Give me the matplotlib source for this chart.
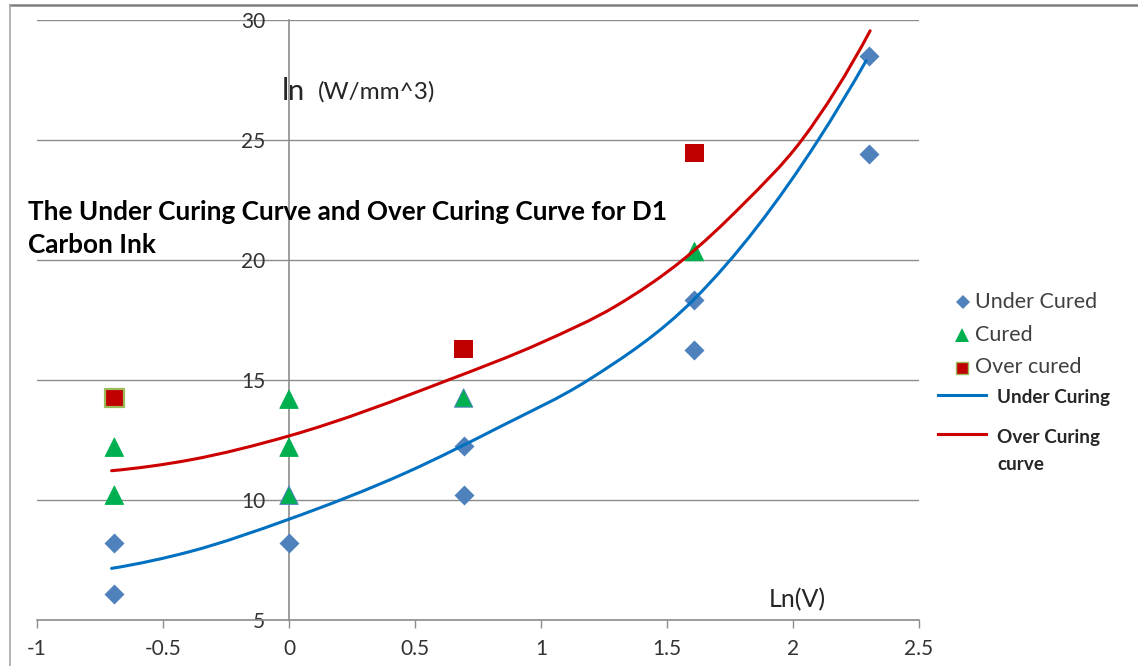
import numpy as np
import matplotlib
matplotlib.use("Agg")
import matplotlib.pyplot as plt
from matplotlib.path import Path
from matplotlib.patches import PathPatch
from matplotlib.lines import Line2D

plt.rcParams["font.family"] = ["Lato", "DejaVu Sans"]
plt.rcParams["axes.unicode_minus"] = False

# Measured points: x = Ln(V), y = ln of power density
under_x = [-0.693, -0.693, 0.0, 0.693, 0.693, 1.609, 1.609, 2.303, 2.303]
under_y = [8.2, 6.1, 8.2, 12.25, 10.2, 18.35, 16.25, 28.5, 24.4]

cured_x = [-0.693, -0.693, 0.0, 0.0, 0.0, 0.693, 1.609]
cured_y = [12.2, 10.2, 14.2, 12.2, 10.2, 14.25, 20.35]

over_x = [-0.693, 0.693, 1.609]
over_y = [14.25, 16.3, 24.45]

# Hand-drawn boundary curves (control points)
under_curve_x = [-0.704, -0.393, 0.0, 0.467, 0.837, 1.188, 1.611, 2.10, 2.29]
under_curve_y = [7.15, 7.85, 9.2, 11.15, 13.05, 15.0, 18.4, 25.0, 28.3]

over_curve_x = [-0.704, -0.393, 0.0, 0.632, 1.0, 1.3, 1.562, 1.8, 2.035, 2.306]
over_curve_y = [11.22, 11.67, 12.67, 15.0, 16.55, 18.1, 20.0, 22.3, 25.0, 29.55]

x_ticks = [-1, -0.5, 0, 0.5, 1, 1.5, 2, 2.5]
x_tick_labels = ["-1", "-0.5", "0", "0.5", "1", "1.5", "2", "2.5"]
y_ticks = [5, 10, 15, 20, 25, 30]
y_tick_labels = ["5", "10", "15", "20", "25", "30"]

BLUE_MK = "#4F81BD"
GREEN_MK = "#00B050"
RED_MK = "#C00000"
BLUE_LN = "#0070C0"
RED_LN = "#CC0000"
GRID = "#8C8C8C"
TXT = "#333333"

W, H = 1138, 666
fig = plt.figure(figsize=(W / 100, H / 100), dpi=100)


def fx(px):
    return px / W


def fy(py):
    return 1 - py / H


ax = fig.add_axes([fx(37), 46 / H, 882 / W, 600 / H])
ax.set_xlim(-1, 2.5)
ax.set_ylim(5, 30)

# Excel-like axes: vertical axis crosses at x = 0
for s in ("top", "right"):
    ax.spines[s].set_visible(False)
ax.spines["left"].set_position(("data", 0))
ax.spines["left"].set_color(GRID)
ax.spines["bottom"].set_color(GRID)
ax.spines["left"].set_linewidth(1.2)
ax.spines["bottom"].set_linewidth(1.2)

ax.set_xticks(x_ticks)
ax.set_xticklabels(x_tick_labels)
ax.set_yticks(y_ticks)
ax.set_yticklabels(y_tick_labels)
ax.tick_params(axis="x", direction="out", length=6, width=1, color=GRID,
               pad=8, labelsize=15, labelcolor=TXT)
ax.tick_params(axis="y", length=0, pad=17, labelsize=15, labelcolor=TXT)
ax.yaxis.grid(True, color=GRID, linewidth=1)
ax.set_axisbelow(True)

# Data markers
ax.scatter(under_x, under_y, marker="D", s=10.2 ** 2, color=BLUE_MK,
           linewidths=0, zorder=3)
cured_edges = [GREEN_MK, GREEN_MK, GREEN_MK, GREEN_MK, BLUE_MK, BLUE_MK, GREEN_MK]
ax.scatter(cured_x, cured_y, marker="^", s=13.2 ** 2, color=GREEN_MK,
           edgecolors=cured_edges, linewidths=0.7, zorder=3)
over_edges = ["#9BBB59", RED_MK, RED_MK]
over_lw = [1.6, 0, 0]
ax.scatter(over_x, over_y, marker="s", s=13.2 ** 2, color=RED_MK,
           edgecolors=over_edges, linewidths=over_lw, zorder=3)


def smooth_path(xs, ys):
    """Cubic Hermite path through the control points, parameterised by x."""
    x = np.asarray(xs, float)
    y = np.asarray(ys, float)
    h = np.diff(x)
    d = np.diff(y) / h
    m = np.empty_like(y)
    m[1:-1] = (d[:-1] * h[1:] + d[1:] * h[:-1]) / (h[:-1] + h[1:])
    m[0] = ((2 * h[0] + h[1]) * d[0] - h[0] * d[1]) / (h[0] + h[1])
    m[-1] = ((2 * h[-1] + h[-2]) * d[-1] - h[-1] * d[-2]) / (h[-1] + h[-2])
    verts = [(x[0], y[0])]
    codes = [Path.MOVETO]
    for i in range(len(x) - 1):
        k = h[i] / 3
        verts += [(x[i] + k, y[i] + k * m[i]),
                  (x[i + 1] - k, y[i + 1] - k * m[i + 1]),
                  (x[i + 1], y[i + 1])]
        codes += [Path.CURVE4] * 3
    return Path(verts, codes)


for cx, cy, col in ((under_curve_x, under_curve_y, BLUE_LN),
                    (over_curve_x, over_curve_y, RED_LN)):
    ax.add_patch(PathPatch(smooth_path(cx, cy), fill=False, edgecolor=col,
                           linewidth=2.2, capstyle="round", zorder=4))

# Axis titles and chart title
fig.text(fx(282), fy(100), "l", fontsize=22, color="#262626", va="baseline")
fig.text(fx(288), fy(100), "n", fontsize=21, color="#262626", va="baseline")
fig.text(fx(318), fy(99), "(W/mm^3)", fontsize=17.5, color="#262626",
         va="baseline")
fig.text(fx(797), fy(600), "Ln(V)", fontsize=18, color="#262626",
         ha="center", va="center")
fig.text(fx(28), fy(212), "The Under Curing Curve and Over Curing Curve for D1",
         fontsize=18.8, fontweight="bold", color="black", va="center")
fig.text(fx(28), fy(245), "Carbon Ink", fontsize=18.8, fontweight="bold",
         color="black", va="center")

# Legend
fig.add_artist(Line2D([fx(963)], [fy(302)], marker="D", markersize=7.6,
                      color=BLUE_MK, markeredgewidth=0, transform=fig.transFigure))
fig.add_artist(Line2D([fx(962)], [fy(335)], marker="^", markersize=9.8,
                      color=GREEN_MK, markeredgewidth=0, transform=fig.transFigure))
fig.add_artist(Line2D([fx(962)], [fy(368)], marker="s", markersize=8.8,
                      color=RED_MK, markeredgecolor="#9BBB59",
                      markeredgewidth=1.0, transform=fig.transFigure))
for label, py in (("Under Cured", 302), ("Cured", 335), ("Over cured", 367)):
    fig.text(fx(975), fy(py), label, fontsize=15.5, color="#404040",
             va="center")

fig.add_artist(Line2D([fx(938), fx(986)], [fy(395), fy(395)], color=BLUE_LN,
                      linewidth=2.2, transform=fig.transFigure))
fig.add_artist(Line2D([fx(938), fx(986)], [fy(434), fy(434)], color=RED_LN,
                      linewidth=2.2, transform=fig.transFigure))
fig.text(fx(997), fy(398), "Under Curing", fontsize=13.6, fontweight="bold",
         color="#262626", va="center")
fig.text(fx(997), fy(437), "Over Curing", fontsize=13.6, fontweight="bold",
         color="#262626", va="center")
fig.text(fx(997), fy(464), "curve", fontsize=13.6, fontweight="bold",
         color="#262626", va="center")

# Chart frame
fig.add_artist(Line2D([fx(10), 1], [fy(5), fy(5)], color="#7F7F7F",
                      linewidth=1.8, transform=fig.transFigure))
fig.add_artist(Line2D([fx(10), fx(10)], [fy(5), 0], color="#A6A6A6",
                      linewidth=1.2, transform=fig.transFigure))

fig.savefig("out.png", dpi=100)
